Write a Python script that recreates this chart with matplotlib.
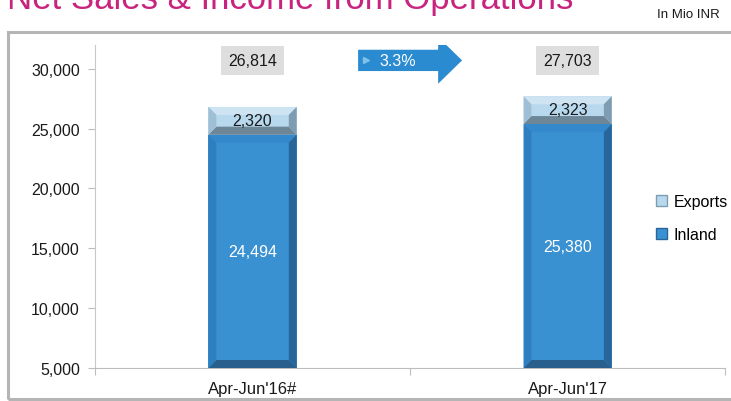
import numpy as np
import matplotlib.pyplot as plt
from matplotlib.patches import Polygon, Rectangle, FancyArrow, Patch

plt.rcParams['font.family'] = ['Liberation Sans', 'DejaVu Sans']

# data
periods = ["Apr-Jun'16#", "Apr-Jun'17"]
inland = [24494, 25380]
exports = [2320, 2323]
totals = [26814, 27703]
growth_label = "3.3%"

inland_face = '#3a91d2'
inland_bevel = {'top': '#3389cb', 'left': '#2e7fbf', 'right': '#28669a', 'bottom': '#295f8c'}
export_face = '#b8d8ee'
export_bevel = {'top': '#cfe4f3', 'left': '#9fbfd6', 'right': '#7f9db2', 'bottom': '#6e8798'}

fig = plt.figure(figsize=(7.31, 4.02), dpi=100)
ax = fig.add_axes([0.130, 0.082, 0.862, 0.804])

ymin, ymax = 5000, 32000
ax.set_ylim(ymin, ymax)
ax.set_xlim(-0.5, 1.5)

bar_w = 0.28
dx = 0.025
dy = 670


def bevel_bar(x, y0, y1, face, bev):
    x0, x1 = x - bar_w / 2, x + bar_w / 2
    y0 = max(y0, ymin)
    ax.add_patch(Rectangle((x0, y0), bar_w, y1 - y0, color=face, lw=0, zorder=2))
    pts = {
        'top': [(x0, y1), (x1, y1), (x1 - dx, y1 - dy), (x0 + dx, y1 - dy)],
        'bottom': [(x0, y0), (x1, y0), (x1 - dx, y0 + dy), (x0 + dx, y0 + dy)],
        'left': [(x0, y0), (x0 + dx, y0 + dy), (x0 + dx, y1 - dy), (x0, y1)],
        'right': [(x1, y0), (x1 - dx, y0 + dy), (x1 - dx, y1 - dy), (x1, y1)],
    }
    for side, p in pts.items():
        ax.add_patch(Polygon(p, closed=True, color=bev[side], lw=0, zorder=3))


x = np.arange(len(periods))
for i in x:
    bevel_bar(i, 0, inland[i], inland_face, inland_bevel)
    bevel_bar(i, inland[i], inland[i] + exports[i], export_face, export_bevel)
    # segment labels
    ax.text(i, (max(0, ymin) + inland[i]) / 2, f'{inland[i]:,}', ha='center', va='center',
            color='white', fontsize=11.5, zorder=5)
    ax.text(i, inland[i] + exports[i] / 2 + 50, f'{exports[i]:,}', ha='center', va='center',
            color='#1a1a1a', fontsize=11.5, zorder=5)
    # total boxes
    ax.text(i, 30700, f'{totals[i]:,}', ha='center', va='center', color='#1a1a1a',
            fontsize=11.5, zorder=5,
            bbox=dict(boxstyle='square,pad=0.45', fc='#dedede', ec='none'))

# growth arrow
ax.add_patch(FancyArrow(0.335, 30700, 0.33, 0, width=1780, head_width=3900,
                        head_length=0.076, length_includes_head=True,
                        color='#2a8bd0', lw=0, zorder=4))
ax.plot([0.36], [30700], marker='>', ms=4, color='#7fc0ec', zorder=5)
ax.text(0.46, 30700, growth_label, ha='center', va='center', color='white',
        fontsize=11.5, zorder=6)

# axes styling
ax.set_xticks([-0.5, 0.5, 1.5], minor=False)
ax.set_xticklabels(['', '', ''])
ax.tick_params(axis='x', length=5, color='#bdbdbd')
for i in x:
    ax.text(i, -0.04, periods[i], transform=ax.get_xaxis_transform(), ha='center',
            va='top', fontsize=12, color='#1a1a1a')
ax.set_yticks(range(5000, 30001, 5000))
ax.set_yticklabels([f'{v:,}' for v in range(5000, 30001, 5000)], fontsize=11.5,
                   color='#1a1a1a')
ax.tick_params(axis='y', length=5, color='#bdbdbd', pad=6)
ax.spines['top'].set_visible(False)
ax.spines['right'].set_visible(False)
ax.spines['left'].set_color('#c8c8c8')
ax.spines['bottom'].set_color('#bdbdbd')
ax.set_facecolor('none')

handles = [Patch(facecolor=export_face, edgecolor=export_bevel['right'], label='Exports'),
           Patch(facecolor=inland_face, edgecolor=inland_bevel['right'], label='Inland')]
fig.legend(handles=handles, loc='center left', bbox_to_anchor=(0.878, 0.455),
           frameon=False, fontsize=11.5, handlelength=0.7, handleheight=0.7,
           handletextpad=0.4, labelspacing=1.1)

# outer frame, title and unit
fig.patches.append(Rectangle((0.011, 0.004), 1.2, 0.914, transform=fig.transFigure,
                             fill=False, ec='#b5b5b5', lw=2.2, zorder=0))
fig.text(0.010, 0.978, 'Net Sales & Income from Operations', fontsize=25,
         color='#c8247f', va='baseline', ha='left')
fig.text(0.985, 0.962, 'In Mio INR', fontsize=9.5, ha='right', va='center',
         color='#1a1a1a')

fig.savefig('out.png', dpi=100)
